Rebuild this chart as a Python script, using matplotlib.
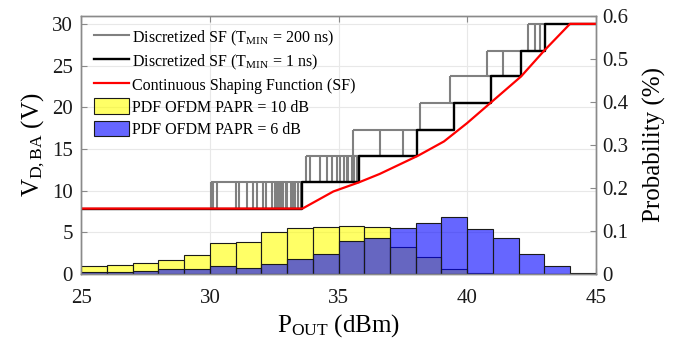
import matplotlib
matplotlib.use("Agg")
import matplotlib.pyplot as plt
import numpy as np
from matplotlib.lines import Line2D
from matplotlib.patches import Patch

plt.rcParams['font.family'] = ['Liberation Serif', 'DejaVu Serif']
plt.rcParams['mathtext.fontset'] = 'custom'
plt.rcParams['mathtext.rm'] = 'Liberation Serif'
plt.rcParams['mathtext.it'] = 'Liberation Serif:italic'

# output power histogram bins (dBm) and PDFs of the two OFDM signals
bin_edges = np.arange(25, 46, 1)
pdf_papr10 = [0.0184, 0.0208, 0.0251, 0.0324, 0.0432, 0.0716, 0.0741, 0.0972, 0.1064, 0.1088,
              0.1112, 0.1102, 0.0638, 0.0387, 0.0122, 0.0023, 0.0005, 0.0, 0.0, 0.0]
pdf_papr6 = [0.0054, 0.0039, 0.0062, 0.0124, 0.0116, 0.0193, 0.0139, 0.0232, 0.0348, 0.0464,
             0.0774, 0.0841, 0.1078, 0.1189, 0.1334, 0.1040, 0.0832, 0.0454, 0.0184, 0.0019]

# continuous shaping function
sf_pout = [25, 33.6, 34.8, 35.8, 36.6, 38.1, 39.1, 40.0, 40.9, 42.1, 43.0, 44.0, 45]
sf_vdd = [7.85, 7.85, 9.9, 11.0, 12.0, 14.2, 15.9, 18.1, 20.5, 23.7, 26.8, 30.0, 30.0]

# supply levels and switching points of the discretized SF (1 ns)
levels = [7.85, 11.0, 14.2, 17.3, 20.5, 23.7, 26.8, 30.0]
switch_pout = [33.6, 35.8, 38.06, 39.49, 40.92, 42.11, 43.04]

# 200 ns version: P_OUT of the level toggles inside every band
toggles_200ns = [
    [30.04, 30.13, 30.26, 31.01, 31.14, 31.45, 31.69, 31.84, 32.08, 32.18, 32.40, 32.53,
     32.60, 32.67, 32.75, 32.83, 32.96, 33.01, 33.14, 33.24, 33.31, 33.44, 33.54],
    [33.74, 33.89, 34.28, 34.54, 34.73, 34.93, 35.06, 35.21, 35.32, 35.38, 35.51, 35.60, 35.71],
    [35.58, 36.61, 37.52],
    [38.17],
    [39.32],
    [40.76, 41.41],
    [42.38, 42.64, 42.84],
]

fig = plt.figure(figsize=(6.86, 3.48), dpi=100)
ax = fig.add_axes([0.1185, 0.2126, 0.7499, 0.7428])
ax2 = ax.twinx()

gray = '#808080'
for k, xs in enumerate(toggles_200ns):
    lo, hi = levels[k], levels[k + 1]
    ax.hlines([lo, hi], xs[0], switch_pout[k], color=gray, lw=1.5, zorder=2)
    ax.vlines(xs, lo, hi, color=gray, lw=1.5, zorder=2)

step_x = [25] + switch_pout + [45]
step_y = levels + [levels[-1]]
ax.plot(step_x, step_y, color='k', lw=1.7, drawstyle='steps-post', zorder=3)
ax.plot(sf_pout, sf_vdd, color='#ff0000', lw=1.6, zorder=4)

ax.set_xlim(25, 45)
ax.set_ylim(0, 31)
ax.set_xticks([25, 30, 35, 40, 45])
ax.set_yticks([0, 5, 10, 15, 20, 25, 30])
ax.grid(True, color='#e8e8e8', lw=0.8)
ax.set_axisbelow(True)

widths = np.diff(bin_edges)
ax2.bar(bin_edges[:-1], pdf_papr10, width=widths, align='edge',
        facecolor=(1, 1, 0, 0.6), edgecolor=(0.1, 0.1, 0.1), lw=0.8)
ax2.bar(bin_edges[:-1], pdf_papr6, width=widths, align='edge',
        facecolor=(0, 0, 1, 0.6), edgecolor=(0.1, 0.1, 0.1), lw=0.8)
ax2.set_ylim(0, 0.6)
ax2.set_yticks([0, 0.1, 0.2, 0.3, 0.4, 0.5, 0.6])
ax2.set_yticklabels(['0', '0.1', '0.2', '0.3', '0.4', '0.5', '0.6'])

for a in (ax, ax2):
    for s in a.spines.values():
        s.set_color('#8a8a8a')
        s.set_linewidth(1.0)
ax.tick_params(axis='both', direction='in', length=4, color='#8a8a8a',
               labelsize=15, top=True, labelcolor='#1a1a1a')
ax.tick_params(axis='x', pad=11)
ax.tick_params(axis='y', pad=6)
ax2.tick_params(axis='y', direction='in', length=4, color='#8a8a8a',
                labelsize=15, pad=5, labelcolor='#1a1a1a')

ax.set_xlabel(r'P$_{\mathrm{OUT}}$ (dBm)', fontsize=18, labelpad=3)
ax.set_ylabel(r'V$_{\mathrm{D,BA}}$ (V)', fontsize=18, labelpad=4)
ax2.set_ylabel('Probability (%)', fontsize=18, labelpad=10)

handles = [
    Line2D([], [], color=gray, lw=1.5),
    Line2D([], [], color='k', lw=1.7),
    Line2D([], [], color='#ff0000', lw=1.6),
    Patch(facecolor=(1, 1, 0, 0.6), edgecolor=(0.1, 0.1, 0.1), lw=0.8),
    Patch(facecolor=(0, 0, 1, 0.6), edgecolor=(0.1, 0.1, 0.1), lw=0.8),
]
labels = [
    r'Discretized SF (T$_{\mathrm{MIN}}$ = 200 ns)',
    r'Discretized SF (T$_{\mathrm{MIN}}$ = 1 ns)',
    'Continuous Shaping Function (SF)',
    'PDF OFDM PAPR = 10 dB',
    'PDF OFDM PAPR = 6 dB',
]
ax2.legend(handles, labels, loc='upper left', bbox_to_anchor=(0.0, 1.0),
           frameon=False, fontsize=11.5, handlelength=2.2, handleheight=1.15,
           handletextpad=0.2, labelspacing=0.3, borderaxespad=0.4)

fig.savefig('out.png', dpi=100)
